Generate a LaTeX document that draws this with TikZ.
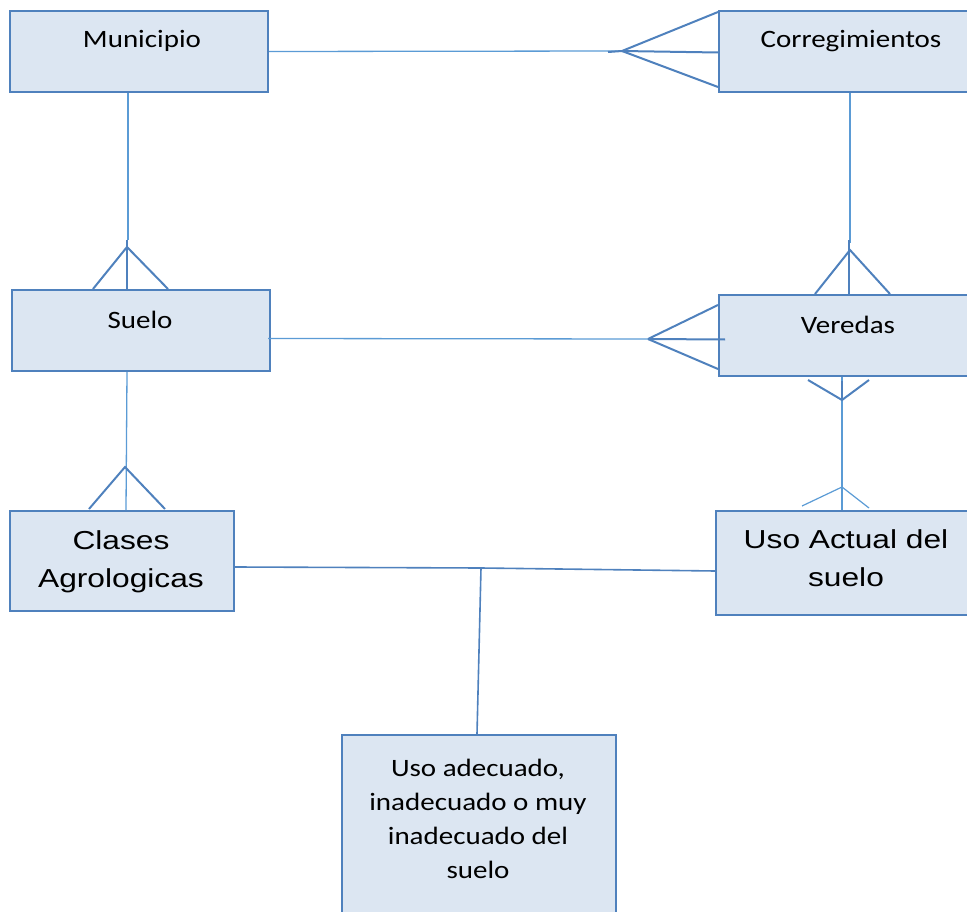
\documentclass[tikz,border=0pt]{standalone}
\usepackage{fontspec}
\usetikzlibrary{calc}
\newfontfamily\calf[FakeStretch=1.16]{Carlito}
\newfontfamily\arf[FakeStretch=1.22]{Liberation Sans}
\definecolor{boxfill}{HTML}{DCE6F2}
\definecolor{boxline}{HTML}{4F81BD}
\definecolor{connc}{HTML}{5B9BD5}
\begin{document}
\begin{tikzpicture}[x=1pt,y=-1pt,
  box/.style={draw=boxline, fill=boxfill, line width=2pt, rectangle, inner sep=0pt, anchor=north west},
  lbl/.style={font=\calf\fontsize{25}{34}\selectfont, align=center, inner sep=0pt, anchor=base},
  big/.style={font=\arf\fontsize{26}{38}\selectfont, align=center, inner sep=0pt, anchor=base},
  conn/.style={draw=connc, line width=1.3pt},
  foot/.style={draw=boxline, line width=2pt},
  thinfoot/.style={draw=connc, line width=1.2pt}]
\useasboundingbox (0,0) rectangle (967,912);
% boxes
\node[box, minimum width=258pt, minimum height=81pt] (mun) at (9,10) {};
\node[box, minimum width=250pt, minimum height=81pt] (cor) at (718,10) {};
\node[box, minimum width=258pt, minimum height=81pt] (sue) at (11,289) {};
\node[box, minimum width=250pt, minimum height=81pt] (ver) at (718,294) {};
\node[box, minimum width=224pt, minimum height=100pt] (cla) at (9,510) {};
\node[box, minimum width=253pt, minimum height=104pt] (uso) at (715,510) {};
\node[box, minimum width=274pt, minimum height=182pt] (ade) at (341,734) {};
% texts (multi-line nodes: base = last line's baseline)
\node[lbl] (tmun) at (142,48) {Municipio};
\node[lbl] (tcor) at (851,48) {Corregimientos};
\node[lbl] (tsue) at (140,328) {Suelo};
\node[lbl] (tver) at (848,333) {Veredas};
\node[big] (tcla) at (121,587) {Clases\\Agrologicas};
\node[big] (tuso) at (846,586) {Uso Actual del\\suelo};
\node[lbl] (tade) at (478,878) {Uso adecuado,\\inadecuado o muy\\inadecuado del\\suelo};
% coordinates
\coordinate (f1) at (622,51);
\coordinate (f2) at (127,247);
\coordinate (f3) at (850,250);
\coordinate (f4) at (648,339);
\coordinate (f5) at (842,400);
\coordinate (f6) at (842,487);
\coordinate (f7) at (125,467);
\coordinate (j1) at (481,568);
% Municipio - Corregimientos
\draw[conn] (mun.east) -- (f1);
\draw[foot] (608,52) -- (f1);
\draw[foot] (f1) -- ($(cor.north west)+(0,2)$);
\draw[foot] (f1) -- ($(cor.west)+(0,1)$);
\draw[foot] (f1) -- ($(cor.south west)+(0,-6)$);
% Municipio - Suelo
\draw[conn] ($(mun.south west)+(119,0)$) -- (128,240);
\draw[foot] (127,240) -- ($(sue.north west)+(116,0)$);
\draw[foot] ($(sue.north west)+(82,0)$) -- (f2) -- ($(sue.north west)+(157,0)$);
% Corregimientos - Veredas
\draw[conn] ($(cor.south west)+(132,0)$) -- (850,243);
\draw[foot] (849,240) -- ($(ver.north west)+(131,0)$);
\draw[foot] ($(ver.north west)+(97,0)$) -- (f3) -- ($(ver.north west)+(172,0)$);
% Suelo - Veredas
\draw[conn] ($(sue.east)+(-3,8)$) -- (f4);
\draw[foot] (f4) -- ($(ver.north west)+(0,11)$);
\draw[foot] (f4) -- ($(ver.west)+(7,4)$);
\draw[foot] (f4) -- ($(ver.south west)+(0,-8)$);
% Veredas - Uso Actual
\draw[conn] ($(ver.south west)+(124,0)$) -- ($(uso.north west)+(127,0)$);
\draw[foot] ($(ver.south west)+(124,4)$) -- (f5);
\draw[foot] (808,380) -- (f5) -- (869,380);
\draw[thinfoot] ($(uso.north west)+(87,-4)$) -- (f6) -- ($(uso.north west)+(154,-2)$);
% Suelo - Clases
\draw[conn] ($(sue.south west)+(116,0)$) -- ($(cla.north west)+(117,0)$);
\draw[foot] ($(cla.north west)+(80,-1)$) -- (f7) -- ($(cla.north west)+(156,-1)$);
% Clases - Uso Actual - Uso adecuado
\draw[foot, line width=1.6pt] ($(cla.east)+(0,6)$) -- (j1) -- ($(uso.west)+(0,8)$);
\draw[foot, line width=1.6pt] (j1) -- ($(ade.north west)+(136,0)$);
\end{tikzpicture}
\end{document}
